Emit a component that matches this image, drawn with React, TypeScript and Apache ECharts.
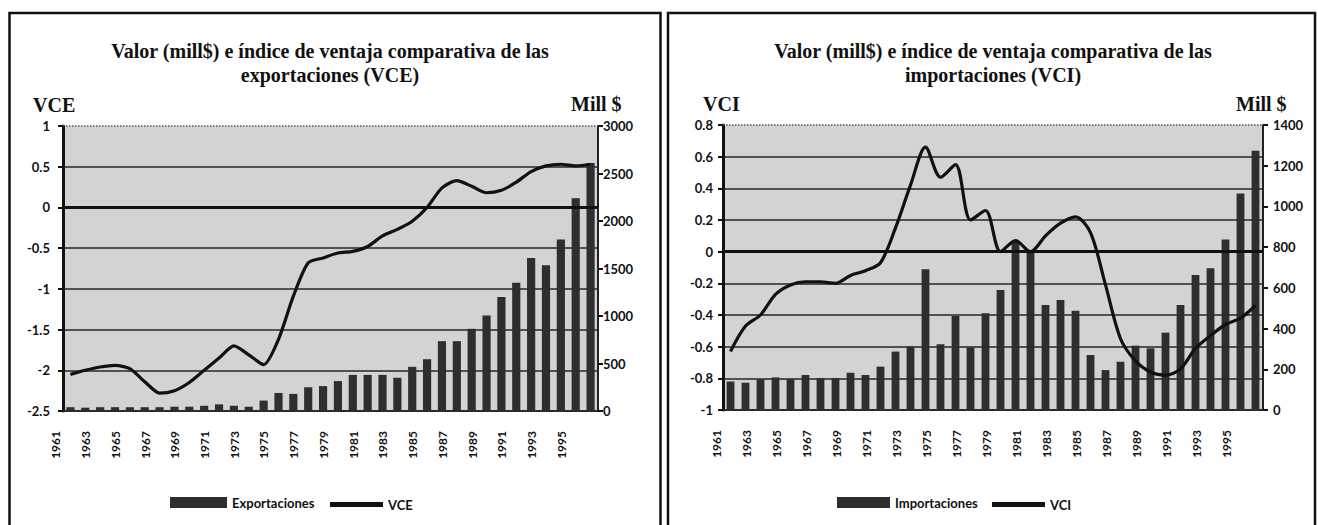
import React, { useEffect, useRef } from "react";
import * as echarts from "echarts";

const years = [
  "1961", "1962", "1963", "1964", "1965", "1966", "1967", "1968", "1969", "1970",
  "1971", "1972", "1973", "1974", "1975", "1976", "1977", "1978", "1979", "1980",
  "1981", "1982", "1983", "1984", "1985", "1986", "1987", "1988", "1989", "1990",
  "1991", "1992", "1993", "1994", "1995", "1996",
];

const exportaciones = [
  40, 35, 40, 40, 40, 40, 40, 45, 45, 55,
  70, 55, 45, 110, 190, 180, 250, 262, 315, 380,
  380, 380, 350, 465, 545, 735, 735, 865, 1005, 1200,
  1350, 1610, 1535, 1805, 2240, 2610,
];

const vce = [
  -2.05, -2.0, -1.96, -1.94, -1.98, -2.14, -2.28, -2.25, -2.15, -2.0,
  -1.85, -1.7, -1.81, -1.93, -1.62, -1.09, -0.68, -0.62, -0.56, -0.54,
  -0.48, -0.35, -0.27, -0.17, 0.0, 0.24, 0.33, 0.26, 0.18, 0.21,
  0.31, 0.44, 0.51, 0.53, 0.51, 0.53,
];

const importaciones = [
  140, 134, 151, 160, 151, 172, 156, 156, 183, 172,
  213, 287, 311, 691, 323, 462, 308, 475, 589, 830,
  780, 516, 540, 488, 270, 196, 237, 316, 303, 380,
  516, 663, 696, 838, 1064, 1274,
];

const vci = [
  -0.63, -0.47, -0.4, -0.27, -0.21, -0.19, -0.19, -0.2, -0.15, -0.12,
  -0.07, 0.15, 0.42, 0.66, 0.47, 0.55, 0.2, 0.26, 0.0, 0.07,
  0.0, 0.1, 0.18, 0.22, 0.12, -0.21, -0.55, -0.69, -0.76, -0.78,
  -0.74, -0.61, -0.53, -0.46, -0.42, -0.34,
];

const titleLine1 = "Valor (mill$) e índice de ventaja comparativa de las";
const titleExp2 = "exportaciones (VCE)";
const titleImp2 = "importaciones (VCI)";

const SERIF = "'Liberation Serif', 'Times New Roman', serif";
const SANS = "Lato, 'Liberation Sans', sans-serif";
const INK = "#111111";

function xAxisFor(gridIndex: number) {
  return {
    gridIndex,
    type: "category",
    data: years,
    boundaryGap: true,
    axisLine: { onZero: false, lineStyle: { color: "#2a2a2a", width: 2 } },
    axisTick: { show: false },
    splitLine: { show: false },
    axisLabel: {
      interval: 1,
      rotate: 90,
      margin: 20,
      fontSize: 12,
      lineHeight: 29,
      verticalAlign: "bottom",
      fontWeight: "bold",
      fontFamily: SANS,
      color: INK,
    },
  };
}

function leftAxis(gridIndex: number, min: number, max: number, interval: number, margin: number) {
  return {
    gridIndex,
    type: "value",
    position: "left",
    min,
    max,
    interval,
    axisLine: { show: true, lineStyle: { color: INK, width: 3 } },
    axisTick: { show: true, length: 5, lineStyle: { color: INK, width: 2 } },
    axisLabel: { margin, fontSize: 13, fontWeight: "bold", fontFamily: SANS, color: INK },
    splitLine: {
      show: true,
      showMaxLine: false,
      showMinLine: false,
      lineStyle: { color: "#262626", width: 1.5 },
    },
  };
}

function rightAxis(gridIndex: number, min: number, max: number, interval: number, margin: number) {
  return {
    gridIndex,
    type: "value",
    position: "right",
    min,
    max,
    interval,
    axisLine: { show: true, lineStyle: { color: "#222", width: 2 } },
    axisTick: { show: true, length: 5, lineStyle: { color: INK, width: 2 } },
    axisLabel: {
      margin,
      fontSize: 13,
      fontWeight: "bold",
      fontFamily: SANS,
      color: INK,
      formatter: (v: number) => String(v),
    },
    splitLine: { show: false },
  };
}

function markLines(top: number) {
  return {
    silent: true,
    symbol: "none",
    label: { show: false },
    data: [
      { yAxis: 0, lineStyle: { color: INK, width: 3, type: "solid" } },
      { yAxis: top, lineStyle: { color: "#555", width: 1.5, type: "dotted" } },
    ],
  };
}

function txt(x: number, y: number, text: string, size: number, align = "center") {
  return {
    type: "text",
    x,
    y,
    silent: true,
    style: {
      text,
      font: `bold ${size}px ${SERIF}`,
      fill: INK,
      textAlign: align,
      align,
      textVerticalAlign: "middle",
      verticalAlign: "middle",
    },
  };
}

const legendText = { fontSize: 13, fontWeight: "bold", fontFamily: SANS, color: INK };

function legendFor(name: string, left: number, top: number, w: number, h: number) {
  return {
    data: [name],
    left,
    top,
    icon: "rect",
    itemWidth: w,
    itemHeight: h,
    padding: 0,
    textStyle: legendText,
  };
}

export default function App() {
  const ref = useRef<HTMLDivElement>(null);

  useEffect(() => {
    if (!ref.current) return;
    const chart = echarts.init(ref.current, undefined, { renderer: "svg" });
    chart.setOption({
      animation: false,
      backgroundColor: "#ffffff",
      grid: [
        { left: 63, top: 126, width: 535, height: 285, show: true, backgroundColor: "#d3d3d3", borderWidth: 0 },
        { left: 723, top: 125, width: 540, height: 285, show: true, backgroundColor: "#d3d3d3", borderWidth: 0 },
      ],
      xAxis: [xAxisFor(0), xAxisFor(1)],
      yAxis: [
        leftAxis(0, -2.5, 1, 0.5, 13),
        rightAxis(0, 0, 3000, 500, 5),
        leftAxis(1, -1, 0.8, 0.2, 10),
        rightAxis(1, 0, 1400, 200, 10),
      ],
      legend: [
        legendFor("Exportaciones", 170, 496, 57, 11),
        legendFor("VCE", 330, 498, 53, 5),
        legendFor("Importaciones", 837, 496, 53, 11),
        legendFor("VCI", 992, 498, 53, 5),
      ],
      series: [
        {
          name: "Exportaciones",
          type: "bar",
          xAxisIndex: 0,
          yAxisIndex: 1,
          data: exportaciones,
          barWidth: "55%",
          itemStyle: { color: "#2e2e2e" },
        },
        {
          name: "VCE",
          type: "line",
          xAxisIndex: 0,
          yAxisIndex: 0,
          data: vce,
          smooth: 0.25,
          symbol: "none",
          z: 5,
          lineStyle: { color: INK, width: 3.2 },
          itemStyle: { color: INK },
          markLine: markLines(1),
        },
        {
          name: "Importaciones",
          type: "bar",
          xAxisIndex: 1,
          yAxisIndex: 3,
          data: importaciones,
          barWidth: "52%",
          itemStyle: { color: "#2e2e2e" },
        },
        {
          name: "VCI",
          type: "line",
          xAxisIndex: 1,
          yAxisIndex: 2,
          data: vci,
          smooth: 0.3,
          symbol: "none",
          z: 5,
          lineStyle: { color: INK, width: 3.2 },
          itemStyle: { color: INK },
          markLine: markLines(0.8),
        },
      ],
      graphic: [
        {
          type: "rect",
          silent: true,
          shape: { x: 9.5, y: 13, width: 651, height: 560 },
          style: { fill: "none", stroke: INK, lineWidth: 2.5 },
        },
        {
          type: "rect",
          silent: true,
          shape: { x: 668, y: 13, width: 647, height: 560 },
          style: { fill: "none", stroke: INK, lineWidth: 2.5 },
        },
        txt(330, 51, titleLine1, 20),
        txt(330, 75, titleExp2, 20),
        txt(993, 51, titleLine1, 20),
        txt(993, 75, titleImp2, 20),
        txt(33, 105, "VCE", 20, "left"),
        txt(571, 104, "Mill $", 20, "left"),
        txt(703, 104, "VCI", 20, "left"),
        txt(1236, 104, "Mill $", 20, "left"),
      ],
    });
    return () => chart.dispose();
  }, []);

  return (
    <div
      ref={ref}
      style={{ position: "fixed", left: 0, top: 0, width: 1318, height: 525, background: "#fff" }}
    />
  );
}
